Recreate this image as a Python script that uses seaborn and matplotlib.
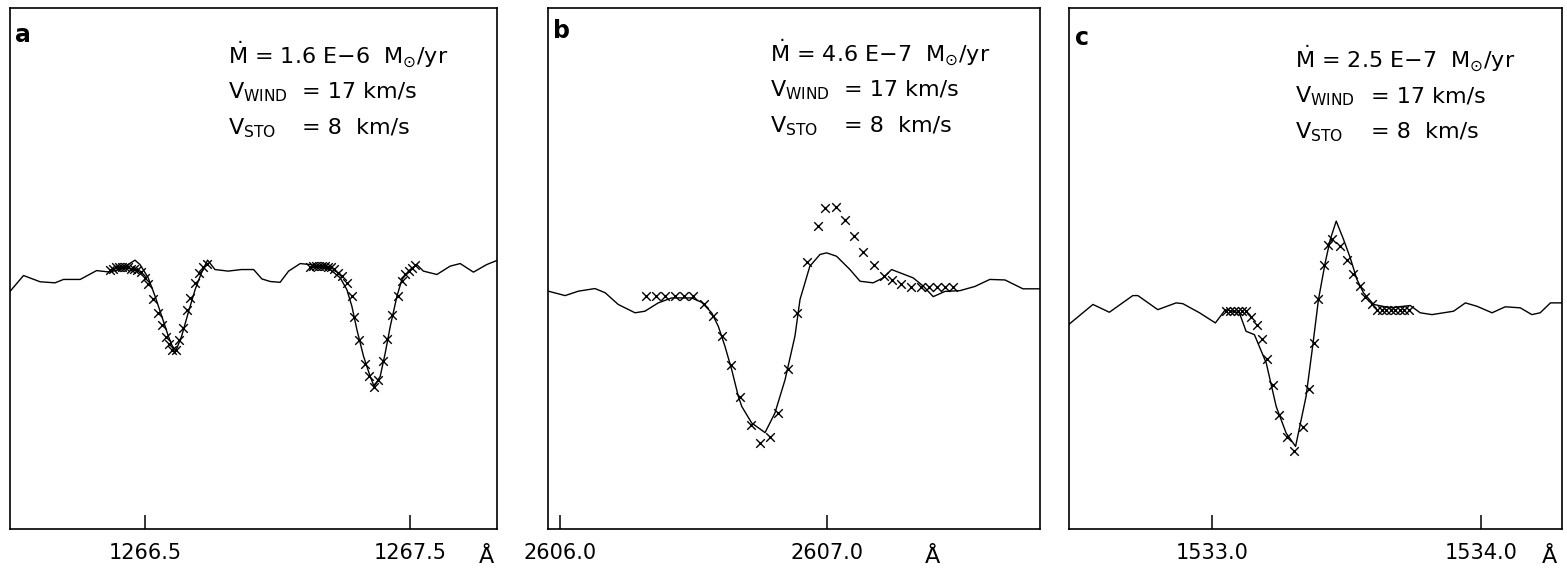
import matplotlib
matplotlib.use("Agg")
import matplotlib.pyplot as plt
import numpy as np
import pandas as pd
import seaborn as sns

# ---------------- data ----------------
# panel a : 1266-1267 A region
a_line_wl = [1265.989, 1266.040, 1266.103, 1266.159, 1266.191, 1266.254, 1266.316, 1266.360,
             1266.406, 1266.461, 1266.480, 1266.511, 1266.537, 1266.562, 1266.587, 1266.612,
             1266.637, 1266.662, 1266.688, 1266.712, 1266.735, 1266.763, 1266.813, 1266.863,
             1266.909, 1266.940, 1266.972, 1267.009, 1267.041, 1267.085, 1267.123, 1267.198,
             1267.236, 1267.261, 1267.280, 1267.299, 1267.324, 1267.349, 1267.364, 1267.387,
             1267.406, 1267.425, 1267.450, 1267.469, 1267.500, 1267.525, 1267.550, 1267.601,
             1267.651, 1267.689, 1267.739, 1267.789, 1267.828]
a_line_flux = [0.912, 0.973, 0.949, 0.945, 0.958, 0.958, 0.992, 0.987,
               0.996, 1.032, 1.015, 0.964, 0.893, 0.817, 0.740, 0.676,
               0.740, 0.830, 0.919, 0.983, 1.032, 0.996, 0.990, 0.996,
               0.996, 0.960, 0.950, 0.947, 0.990, 1.019, 1.015, 0.996,
               0.964, 0.919, 0.855, 0.765, 0.663, 0.586, 0.547, 0.586,
               0.676, 0.778, 0.893, 0.958, 0.996, 1.015, 0.990, 0.977,
               1.009, 1.019, 0.986, 1.015, 1.031]
a_obs_wl = [1266.368, 1266.379, 1266.391, 1266.402, 1266.413, 1266.425, 1266.436, 1266.447,
            1266.458, 1266.470, 1266.485, 1266.500, 1266.511, 1266.530, 1266.549, 1266.564,
            1266.579, 1266.591, 1266.602, 1266.617, 1266.628, 1266.643, 1266.658, 1266.670,
            1266.689, 1266.704, 1266.719, 1266.734,
            1267.123, 1267.134, 1267.145, 1267.157, 1267.168, 1267.179, 1267.191, 1267.202,
            1267.213, 1267.229, 1267.242, 1267.261, 1267.280, 1267.289, 1267.305, 1267.330,
            1267.343, 1267.362, 1267.380, 1267.399, 1267.412, 1267.431, 1267.456, 1267.469,
            1267.481, 1267.494, 1267.506, 1267.519]
a_obs_flux = [0.996, 1.000, 1.004, 1.004, 1.004, 1.004, 1.004, 1.000,
              1.000, 0.996, 0.985, 0.965, 0.942, 0.881, 0.831, 0.785,
              0.738, 0.712, 0.688, 0.688, 0.727, 0.773, 0.842, 0.888,
              0.946, 0.981, 1.004, 1.019,
              1.004, 1.008, 1.008, 1.008, 1.008, 1.008, 1.004, 1.004,
              1.000, 0.983, 0.970, 0.945, 0.893, 0.815, 0.727, 0.635,
              0.586, 0.547, 0.573, 0.643, 0.730, 0.823, 0.893, 0.951,
              0.977, 0.990, 1.003, 1.012]

# panel b : 2606-2607 A region
b_line_wl = [2605.956, 2606.019, 2606.069, 2606.131, 2606.169, 2606.218, 2606.281, 2606.318,
             2606.368, 2606.418, 2606.493, 2606.531, 2606.568, 2606.593, 2606.618, 2606.643,
             2606.668, 2606.681, 2606.718, 2606.768, 2606.805, 2606.843, 2606.880, 2606.899,
             2606.936, 2606.974, 2606.999, 2607.036, 2607.086, 2607.124, 2607.173, 2607.211,
             2607.242, 2607.323, 2607.361, 2607.398, 2607.442, 2607.498, 2607.554, 2607.610,
             2607.667, 2607.734, 2607.798]
b_line_flux = [0.913, 0.896, 0.913, 0.923, 0.907, 0.862, 0.830, 0.836,
               0.868, 0.887, 0.887, 0.870, 0.830, 0.778, 0.701, 0.612,
               0.509, 0.470, 0.407, 0.370, 0.445, 0.573, 0.740, 0.881,
               1.009, 1.054, 1.060, 1.047, 0.996, 0.951, 0.945, 0.964,
               0.996, 0.964, 0.932, 0.892, 0.912, 0.915, 0.931, 0.958,
               0.956, 0.922, 0.922]
b_obs_wl = [2606.322, 2606.358, 2606.393, 2606.429, 2606.464, 2606.498, 2606.540, 2606.574,
            2606.606, 2606.640, 2606.674, 2606.715, 2606.749, 2606.787, 2606.818, 2606.855,
            2606.887, 2606.924, 2606.965, 2606.994, 2607.034, 2607.066, 2607.103, 2607.136,
            2607.178, 2607.213, 2607.245, 2607.277, 2607.315, 2607.352, 2607.382, 2607.412,
            2607.442, 2607.473]
b_obs_flux = [0.894, 0.894, 0.894, 0.894, 0.894, 0.894, 0.862, 0.819,
              0.740, 0.628, 0.507, 0.400, 0.332, 0.353, 0.447, 0.615,
              0.830, 1.024, 1.165, 1.232, 1.235, 1.188, 1.124, 1.065,
              1.015, 0.973, 0.954, 0.942, 0.930, 0.930, 0.930, 0.930,
              0.930, 0.930]

# panel c : 1533-1534 A region
c_line_wl = [1532.467, 1532.557, 1532.618, 1532.705, 1532.724, 1532.798, 1532.866, 1532.891,
             1532.953, 1533.012, 1533.049, 1533.101, 1533.126, 1533.157, 1533.201, 1533.238,
             1533.275, 1533.310, 1533.349, 1533.375, 1533.395, 1533.420, 1533.439, 1533.461,
             1533.488, 1533.513, 1533.538, 1533.562, 1533.600, 1533.662, 1533.736, 1533.773,
             1533.817, 1533.897, 1533.941, 1533.984, 1534.040, 1534.089, 1534.145, 1534.188,
             1534.219, 1534.257, 1534.300]
c_line_flux = [0.785, 0.862, 0.832, 0.896, 0.896, 0.842, 0.868, 0.865,
               0.830, 0.791, 0.842, 0.830, 0.759, 0.746, 0.637, 0.470,
               0.368, 0.317, 0.509, 0.714, 0.881, 1.022, 1.112, 1.182,
               1.112, 1.041, 0.958, 0.907, 0.862, 0.849, 0.858, 0.830,
               0.823, 0.836, 0.868, 0.855, 0.830, 0.853, 0.849, 0.823,
               0.830, 0.868, 0.868]
c_obs_wl = [1533.052, 1533.067, 1533.082, 1533.097, 1533.112, 1533.126, 1533.145, 1533.166,
            1533.186, 1533.203, 1533.226, 1533.248, 1533.278, 1533.305, 1533.337, 1533.359,
            1533.377, 1533.395, 1533.416, 1533.432, 1533.446, 1533.476, 1533.500, 1533.523,
            1533.548, 1533.569, 1533.594, 1533.613, 1533.630, 1533.647, 1533.664, 1533.680,
            1533.697, 1533.714, 1533.730]
c_obs_flux = [0.838, 0.838, 0.838, 0.838, 0.838, 0.838, 0.812, 0.785,
              0.728, 0.654, 0.554, 0.438, 0.355, 0.300, 0.393, 0.537,
              0.714, 0.881, 1.015, 1.092, 1.112, 1.086, 1.032, 0.977,
              0.931, 0.892, 0.865, 0.842, 0.842, 0.842, 0.842, 0.842,
              0.842, 0.842, 0.842]

panel_letters = ["a", "b", "c"]
mdot_texts = ["1.6 E$-$6", "4.6 E$-$7", "2.5 E$-$7"]
v_wind = "17"
v_sto = "8"
tick_values = [[1266.5, 1267.5], [2606.0, 2607.0], [1533.0, 1534.0]]
tick_labels = [["1266.5", "1267.5"], ["2606.0", "2607.0"], ["1533.0", "1534.0"]]
x_limits = [(1265.989, 1267.828), (2605.955, 2607.798), (1532.468, 1534.300)]

# ---------------- style ----------------
sns.set_theme(style="ticks")
plt.rcParams["font.family"] = ["DejaVu Sans"]
plt.rcParams["mathtext.fontset"] = "dejavusans"
plt.rcParams["mathtext.default"] = "regular"
plt.rcParams["text.color"] = "black"
plt.rcParams["axes.labelcolor"] = "black"
plt.rcParams["xtick.color"] = "black"

fig = plt.figure(figsize=(15.67, 5.74), dpi=100)
fig.patch.set_facecolor("white")

W, H = 1567.0, 574.0
top_px, bot_px = 8, 529
frames = [(10, 497), (548, 1040), (1069, 1562)]
text_x = [0.448, 0.451, 0.458]
text_y0 = [0.910, 0.914, 0.902]
eq_x = [0.600, 0.602, 0.612]
letter_pos = [(0.027, 0.948), (0.028, 0.955), (0.026, 0.942)]
ang_x = [0.979, 0.782, 0.974]

lines = [(a_line_wl, a_line_flux, a_obs_wl, a_obs_flux),
         (b_line_wl, b_line_flux, b_obs_wl, b_obs_flux),
         (c_line_wl, c_line_flux, c_obs_wl, c_obs_flux)]

for i in range(3):
    l, r = frames[i]
    ax = fig.add_axes([l / W, (H - bot_px) / H, (r - l) / W, (bot_px - top_px) / H])
    lw, lf, ow, of = lines[i]
    sns.lineplot(x=lw, y=lf, ax=ax, color="black", linewidth=1.0,
                 estimator=None, sort=False)
    sns.scatterplot(x=ow, y=of, ax=ax, marker="x", s=38, color="black",
                    linewidth=1.0)
    ax.set_xlim(*x_limits[i])
    ax.set_ylim(0, 2.0)
    ax.set_xticks(tick_values[i])
    ax.set_xticklabels(tick_labels[i])
    ax.set_yticks([])
    ax.set_xlabel("")
    ax.set_ylabel("")
    ax.tick_params(axis="x", direction="in", length=10, width=1.1, pad=10,
                   labelsize=15, colors="black", labelcolor="black", top=False)
    for sp in ax.spines.values():
        sp.set_visible(True)
        sp.set_color("black")
        sp.set_linewidth(1.2)
    ax.set_facecolor("white")

    # panel letter
    ax.text(letter_pos[i][0], letter_pos[i][1], panel_letters[i], transform=ax.transAxes,
            fontsize=17, fontweight="bold", ha="center", va="center", color="black")
    # annotation block
    tx, ty = text_x[i], text_y0[i]
    ax.text(tx, ty, r"$\dot{M}$ = " + mdot_texts[i] + r"  M$_{\odot}$/yr",
            transform=ax.transAxes, fontsize=16, ha="left", va="center", color="black")
    ax.text(tx, ty - 0.071, r"V$_{WIND}$", transform=ax.transAxes, fontsize=16,
            ha="left", va="center", color="black")
    ax.text(eq_x[i], ty - 0.071, "= " + v_wind + " km/s", transform=ax.transAxes,
            fontsize=16, ha="left", va="center", color="black")
    ax.text(tx, ty - 0.140, r"V$_{STO}$", transform=ax.transAxes, fontsize=16,
            ha="left", va="center", color="black")
    ax.text(eq_x[i], ty - 0.140, "= " + v_sto + "  km/s", transform=ax.transAxes,
            fontsize=16, ha="left", va="center", color="black")
    # Angstrom unit
    ax.text(ang_x[i], -0.066, "Å", transform=ax.transAxes, fontsize=16,
            ha="center", va="baseline", color="black")

fig.savefig("out.png", dpi=100, facecolor="white")
